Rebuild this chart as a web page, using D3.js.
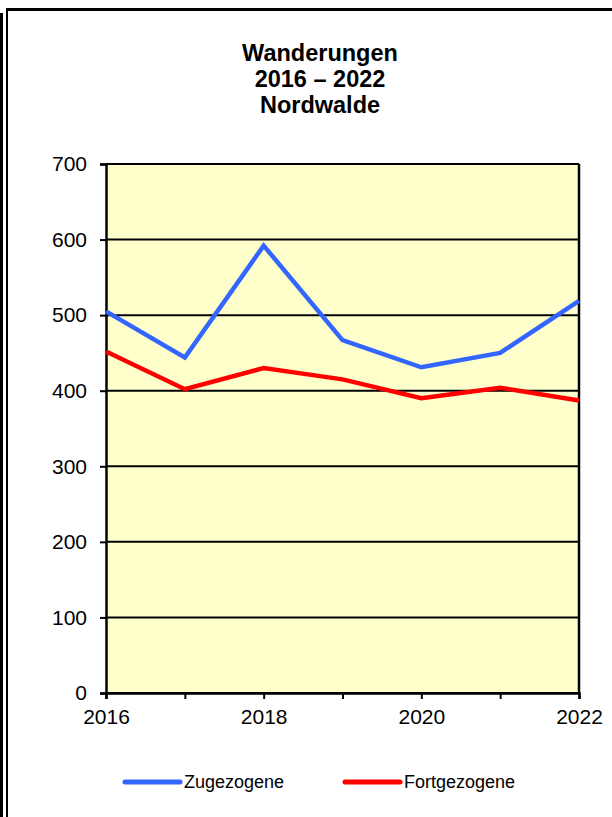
<!DOCTYPE html>
<html>
<head>
<meta charset="utf-8">
<script src="https://cdn.jsdelivr.net/npm/d3@7"></script>
<style>
  html, body { margin: 0; padding: 0; background: #fff; }
  svg { display: block; }
  text { font-family: "Liberation Sans", Arial, sans-serif; fill: #000; }
</style>
</head>
<body>
<svg id="chart" width="612" height="817"></svg>
<script>
const years = [2016, 2017, 2018, 2019, 2020, 2021, 2022];
const zugezogene = [505, 444, 592, 467, 431, 450, 519];
const fortgezogene = [452, 402, 430, 415, 390, 404, 387];
const yTicks = [0, 100, 200, 300, 400, 500, 600, 700];
const xLabelYears = [2016, 2018, 2020, 2022];
const titleLines = ["Wanderungen", "2016 – 2022", "Nordwalde"];
const seriesNames = ["Zugezogene", "Fortgezogene"];
const seriesColors = ["#3366FF", "#FF0000"];

(function () {
const svg = d3.select("#chart");

// frame
svg.append("line").attr("x1", 6).attr("x2", 612).attr("y1", 9.5).attr("y2", 9.5)
  .attr("stroke", "#000").attr("stroke-width", 3);
svg.append("line").attr("x1", 7).attr("x2", 7).attr("y1", 8).attr("y2", 817)
  .attr("stroke", "#000").attr("stroke-width", 2);
svg.append("line").attr("x1", 1.5).attr("x2", 1.5).attr("y1", 13).attr("y2", 817)
  .attr("stroke", "#000").attr("stroke-width", 3);

const pLeft = 106, pRight = 579, pTop = 164, pBottom = 693;
const x = d3.scaleLinear().domain([2016, 2022]).range([pLeft, pRight]);
const y = d3.scaleLinear().domain([0, 700]).range([pBottom, pTop]);

// plot background
svg.append("rect").attr("x", pLeft).attr("y", pTop)
  .attr("width", pRight - pLeft).attr("height", pBottom - pTop)
  .attr("fill", "#FFFFCC");

// gridlines
svg.append("g").selectAll("line").data(yTicks).join("line")
  .attr("x1", pLeft).attr("x2", pRight)
  .attr("y1", d => y(d)).attr("y2", d => y(d))
  .attr("stroke", "#000").attr("stroke-width", 2);

// right border
svg.append("line").attr("x1", pRight).attr("x2", pRight).attr("y1", pTop).attr("y2", pBottom)
  .attr("stroke", "#000").attr("stroke-width", 2.5);

// y axis
const yAxis = svg.append("g").attr("transform", `translate(${pLeft},0)`)
  .call(d3.axisLeft(y).tickValues(yTicks).tickSize(6).tickPadding(13).tickFormat(d3.format("d")));
yAxis.select(".domain").attr("stroke", "#000").attr("stroke-width", 2.5);
yAxis.selectAll(".tick line").attr("stroke", "#000").attr("stroke-width", 2);
yAxis.selectAll(".tick text").style("font-family", "'Liberation Sans', Arial, sans-serif")
  .style("font-size", "21px").attr("fill", "#000");

// x axis
const xAxis = svg.append("g").attr("transform", `translate(0,${pBottom})`)
  .call(d3.axisBottom(x).tickValues(years).tickSize(6).tickPadding(10)
    .tickFormat(d => xLabelYears.includes(d) ? String(d) : ""));
xAxis.select(".domain").attr("stroke", "#000").attr("stroke-width", 2.5);
xAxis.selectAll(".tick line").attr("stroke", "#000").attr("stroke-width", 2);
xAxis.selectAll(".tick text").style("font-family", "'Liberation Sans', Arial, sans-serif")
  .style("font-size", "21px").attr("fill", "#000");

// lines
const line = d3.line().x((d, i) => x(years[i])).y(d => y(d));
[zugezogene, fortgezogene].forEach((s, k) => {
  svg.append("path").datum(s).attr("d", line)
    .attr("fill", "none").attr("stroke", seriesColors[k])
    .attr("stroke-width", 4.5).attr("stroke-linejoin", "miter");
});

// title
svg.append("g").selectAll("text").data(titleLines).join("text")
  .attr("x", 320).attr("y", (d, i) => 61 + i * 26)
  .attr("text-anchor", "middle")
  .style("font-size", "23.5px").style("font-weight", "bold")
  .text(d => d);

// legend
const legendX = [125, 345];
seriesNames.forEach((name, k) => {
  svg.append("line").attr("x1", legendX[k]).attr("x2", legendX[k] + 55)
    .attr("y1", 782).attr("y2", 782)
    .attr("stroke", seriesColors[k]).attr("stroke-width", 5).attr("stroke-linecap", "round");
  svg.append("text").attr("x", legendX[k] + 59).attr("y", 788)
    .style("font-size", "18px").text(name);
});
})();
</script>
</body>
</html>
